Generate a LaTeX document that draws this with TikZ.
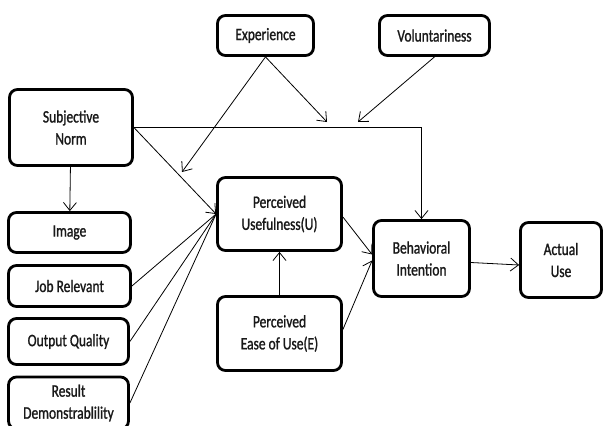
\documentclass[tikz,border=0pt]{standalone}
\usepackage{fontspec}
\setmainfont[FakeStretch=0.77,FakeBold=1.2]{Carlito}
\usetikzlibrary{arrows.meta}
\tikzset{
  box/.style={draw, line width=2.8pt, rounded corners=8pt, align=center, inner sep=0pt,
    font=\fontsize{17.5}{22}\selectfont, text=black!90},
  arr/.style={-{Straight Barb[length=8pt,width=13pt]}, line width=0.8pt},
  ln/.style={line width=0.8pt},
}
\begin{document}
\begin{tikzpicture}[x=1pt,y=-1pt]
\clip (0,0) rectangle (603,426);
\fill[white] (0,0) rectangle (603,426);
% top row
\node[box, minimum width=96pt, minimum height=40pt] (exp) at (265.5,35.5) {Experience};
\node[box, minimum width=110pt, minimum height=40pt] (vol) at (434.5,35.5) {Voluntariness};
% left column
\node[box, minimum width=123pt, minimum height=76pt] (sn) at (71,127.5) {Subjective\\Norm};
\node[box, minimum width=122pt, minimum height=40pt] (img) at (69.5,232.5) {Image};
\node[box, minimum width=122pt, minimum height=41pt] (job) at (69.5,286) {Job Relevant};
\node[box, minimum width=120pt, minimum height=46pt] (out) at (68.5,341.5) {Output Quality};
\node[box, minimum width=120pt, minimum height=52pt] (res) at (68.5,403) {Result\\Demonstrablility};
% middle
\node[box, minimum width=124pt, minimum height=73pt] (pu) at (279.5,214) {Perceived\\Usefulness(U)};
\node[box, minimum width=124pt, minimum height=74pt] (peou) at (279.5,333.5) {Perceived\\Ease of Use(E)};
% right
\node[box, minimum width=96pt, minimum height=76pt] (bi) at (421.5,258.5) {Behavioral\\Intention};
\node[box, minimum width=81pt, minimum height=75pt] (au) at (561,260) {Actual\\Use};
% moderator targets
\coordinate (m1) at (182,172);
\coordinate (m2) at (327,122);
\coordinate (m3) at (358,122);
% connectors
\draw[arr] (sn) -- (img);
\draw[arr] (sn.east) -- (pu.west);
\draw[arr] (sn.east) -| (bi.north);
\draw[ln] (job.east) -- (pu.west);
\draw[ln] (out.east) -- (pu.west);
\draw[ln] (res.east) -- (pu.west);
\draw[arr] (exp.south) -- (m1);
\draw[arr] (exp.south) -- (m2);
\draw[arr] (vol.south) -- (m3);
\draw[arr] (peou) -- (pu);
\draw[arr] ([yshift=-3pt]pu.east) -- ([yshift=4pt]bi.west);
\draw[arr] ([yshift=4pt]peou.east) -- ([yshift=-2pt]bi.west);
\draw[arr] ([yshift=-4pt]bi.east) -- ([yshift=-5pt]au.west);
\end{tikzpicture}
\end{document}
